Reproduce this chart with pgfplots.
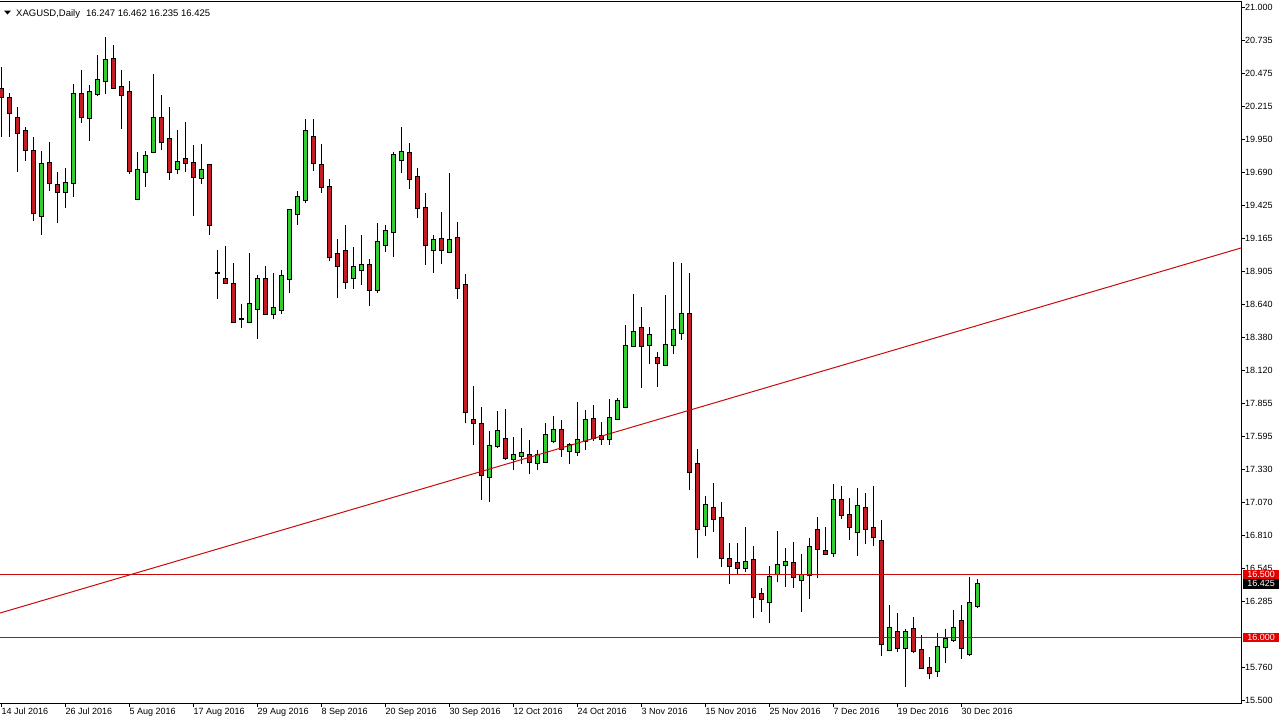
\documentclass[border=0pt]{standalone}
\usepackage{fontspec}
\setmainfont{Liberation Sans}
\usepackage{pgfplots}
\usepackage{pgfplotstable}
\pgfplotsset{compat=1.18}

\definecolor{bull}{RGB}{50,205,50}
\definecolor{bear}{RGB}{196,28,36}
\definecolor{lvl}{RGB}{200,10,10}
\definecolor{boxred}{RGB}{230,0,0}

% x = bar index (0 = 14 Jul 2016), o h l c
\pgfplotstableread{
x o h l c
0 20.349 20.529 19.973 20.291
1 20.278 20.318 19.973 20.164
2 20.122 20.206 19.696 20.005
3 20.018 20.048 19.782 19.870
4 19.860 19.968 19.306 19.365
5 19.346 19.860 19.193 19.756
6 19.762 19.929 19.544 19.603
7 19.589 19.691 19.286 19.537
8 19.532 19.727 19.410 19.605
9 19.608 20.391 19.497 20.310
10 20.310 20.502 20.085 20.127
11 20.119 20.383 19.941 20.326
12 20.310 20.621 20.296 20.421
13 20.413 20.767 20.312 20.582
14 20.587 20.701 20.349 20.362
15 20.365 20.502 20.037 20.307
16 20.328 20.413 19.675 19.703
17 19.479 19.850 19.475 19.707
18 19.696 19.860 19.571 19.820
19 19.850 20.473 19.844 20.122
20 20.122 20.304 19.868 19.929
21 19.955 20.206 19.629 19.696
22 19.719 20.026 19.675 19.770
23 19.794 20.090 19.691 19.767
24 19.762 19.910 19.343 19.656
25 19.643 19.913 19.600 19.707
26 19.748 19.754 19.193 19.276
27 18.893 19.074 18.687 18.893
28 18.841 19.108 18.804 18.810
29 18.804 18.969 18.494 18.500
30 18.523 18.645 18.457 18.523
31 18.505 19.048 18.502 18.645
32 18.608 18.875 18.368 18.841
33 18.841 18.947 18.566 18.570
34 18.564 18.891 18.523 18.611
35 18.598 18.915 18.569 18.865
36 18.841 19.397 18.730 19.391
37 19.357 19.542 19.272 19.492
38 19.469 20.114 19.445 20.018
39 19.968 20.114 19.703 19.762
40 19.748 19.915 19.529 19.576
41 19.571 19.635 18.989 19.016
42 19.040 19.164 18.695 18.950
43 19.066 19.270 18.767 18.823
44 18.849 19.097 18.767 18.937
45 18.913 19.193 18.799 18.953
46 18.955 19.000 18.632 18.759
47 18.759 19.286 18.735 19.135
48 19.111 19.270 19.061 19.223
49 19.215 19.850 19.016 19.828
50 19.786 20.048 19.683 19.850
51 19.842 19.921 19.560 19.640
52 19.651 19.722 19.330 19.405
53 19.405 19.524 18.958 19.111
54 19.072 19.193 18.893 19.151
55 19.159 19.373 18.966 19.072
56 19.062 19.685 19.048 19.151
57 19.167 19.295 18.689 18.776
58 18.794 18.883 17.699 17.786
59 17.725 17.994 17.526 17.704
60 17.691 17.827 17.090 17.286
61 17.275 17.637 17.077 17.518
62 17.516 17.796 17.505 17.635
63 17.571 17.812 17.407 17.426
64 17.418 17.587 17.328 17.447
65 17.442 17.662 17.375 17.461
66 17.447 17.566 17.294 17.389
67 17.381 17.487 17.328 17.445
68 17.394 17.699 17.390 17.605
69 17.560 17.756 17.540 17.643
70 17.643 17.725 17.434 17.492
71 17.481 17.540 17.378 17.526
72 17.474 17.867 17.439 17.564
73 17.560 17.804 17.487 17.725
74 17.733 17.841 17.558 17.582
75 17.597 17.709 17.529 17.576
76 17.571 17.892 17.529 17.741
77 17.735 17.897 17.730 17.873
78 17.830 18.478 17.825 18.310
79 18.315 18.724 18.312 18.421
80 18.452 18.621 17.981 18.315
81 18.323 18.460 18.167 18.397
82 18.215 18.267 17.989 18.180
83 18.164 18.716 18.157 18.318
84 18.324 18.977 18.248 18.437
85 18.413 18.969 18.360 18.564
86 18.564 18.889 17.169 17.310
87 17.373 17.492 16.627 16.857
88 16.886 17.121 16.807 17.048
89 17.024 17.222 16.839 16.936
90 16.944 17.072 16.561 16.627
91 16.624 16.746 16.421 16.564
92 16.593 16.746 16.502 16.553
93 16.548 16.873 16.521 16.601
94 16.612 16.724 16.151 16.317
95 16.341 16.389 16.204 16.306
96 16.278 16.566 16.111 16.476
97 16.502 16.844 16.437 16.572
98 16.572 16.706 16.402 16.596
99 16.588 16.754 16.389 16.481
100 16.459 16.660 16.204 16.492
101 16.492 16.786 16.305 16.714
102 16.850 16.952 16.473 16.703
103 16.683 16.873 16.665 16.665
104 16.672 17.215 16.640 17.088
105 17.088 17.198 16.941 16.968
106 16.968 17.108 16.770 16.873
107 16.834 17.182 16.648 17.040
108 17.024 17.143 16.743 16.857
109 16.865 17.200 16.722 16.794
110 16.762 16.929 15.854 15.945
111 15.897 16.254 15.895 16.071
112 16.040 16.191 15.881 15.913
113 15.913 16.063 15.608 16.040
114 16.063 16.159 15.873 15.889
115 15.897 16.016 15.750 15.754
116 15.754 15.841 15.667 15.715
117 15.731 16.032 15.688 15.921
118 15.921 16.063 15.794 15.984
119 15.977 16.215 15.961 16.071
120 16.127 16.259 15.825 15.913
121 15.865 16.476 15.852 16.270
122 16.247 16.462 16.235 16.425
}\candles

\begin{document}
\begin{tikzpicture}
\begin{axis}[
    at={(0,0)}, anchor=north west,
    scale only axis, width=1241bp, height=701bp,
    xmin=-0.1875, xmax=154.94,
    ymin=15.479, ymax=21.042,
    axis line style={black, line width=1bp},
    tick align=outside, major tick length=4bp,
    tick style={black, line width=0.8bp},
    xtick pos=bottom, ytick pos=right, yticklabel pos=right,
    xtick={0,8,...,120},
    xticklabels={14 Jul 2016,26 Jul 2016,5 Aug 2016,17 Aug 2016,29 Aug 2016,
        8 Sep 2016,20 Sep 2016,30 Sep 2016,12 Oct 2016,24 Oct 2016,3 Nov 2016,
        15 Nov 2016,25 Nov 2016,7 Dec 2016,19 Dec 2016,30 Dec 2016},
    ytick={21.000,20.735,20.475,20.215,19.950,19.690,19.425,19.165,18.905,
        18.640,18.380,18.120,17.855,17.595,17.330,17.070,16.810,16.545,
        16.285,15.760,15.500},
    yticklabels={21.000,20.735,20.475,20.215,19.950,19.690,19.425,19.165,18.905,
        18.640,18.380,18.120,17.855,17.595,17.330,17.070,16.810,16.545,
        16.285,15.760,15.500},
    tick label style={font=\fontsize{9bp}{10bp}\selectfont, black},
    xticklabel style={anchor=north west, inner sep=0pt, yshift=-1bp},
    yticklabel style={anchor=west, inner sep=0pt},
    candle/.style={draw=none, mark=none, forget plot,
        error bars/.cd, y dir=plus, y explicit, error mark=none},
]

% wicks
\addplot[candle, error bar style={draw=black, line width=1bp}]
    table[x=x, y=l, y error expr={\thisrow{h}-\thisrow{l}}] {\candles};

% body outlines
\addplot[candle, error bar style={draw=black, line width=5bp}]
    table[x=x, y expr={min(\thisrow{o},\thisrow{c})-0.008},
          y error expr={abs(\thisrow{c}-\thisrow{o})+0.016}] {\candles};

% bull bodies
\addplot[candle, error bar style={draw=bull, line width=3bp}]
    table[x=x, y=o, y error expr={max(\thisrow{c}-\thisrow{o},0)}] {\candles};

% bear bodies
\addplot[candle, error bar style={draw=bear, line width=3bp}]
    table[x=x, y=c, y error expr={max(\thisrow{o}-\thisrow{c},0)}] {\candles};

% levels and trend line
\addplot[lvl, line width=1bp] coordinates {(-1,16.5) (160,16.5)};
\addplot[lvl, line width=1bp] coordinates {(-1,16.0) (160,16.0)};
\addplot[lvl, line width=1bp] coordinates {(-0.1875,16.193) (154.94,19.090)};

\coordinate (pa) at (axis cs:154.94,16.500);
\coordinate (pb) at (axis cs:154.94,16.425);
\coordinate (pc) at (axis cs:154.94,16.000);
\end{axis}

\tikzset{pricebox/.style={anchor=west, inner sep=0pt, minimum width=37bp,
    minimum height=9.5bp, text=white, font=\fontsize{9bp}{10bp}\selectfont}}
\node[pricebox, fill=boxred] at ([xshift=1.5bp]pa) {16.500};
\node[pricebox, fill=black] at ([xshift=1.5bp]pb) {16.425};
\node[pricebox, fill=boxred] at ([xshift=1.5bp]pc) {16.000};

% chart caption
\fill (4bp,-8.5bp) -- (11bp,-8.5bp) -- (7.5bp,-12.5bp) -- cycle;
\node[anchor=base west, inner sep=0pt, font=\fontsize{9.5bp}{10bp}\selectfont]
    at (16bp,-14bp) {XAGUSD,Daily\hspace{6bp}16.247 16.462 16.235 16.425};

\pgfresetboundingbox
\path[use as bounding box] (0bp,2bp) rectangle (1279bp,-721bp);
\end{tikzpicture}
\end{document}
